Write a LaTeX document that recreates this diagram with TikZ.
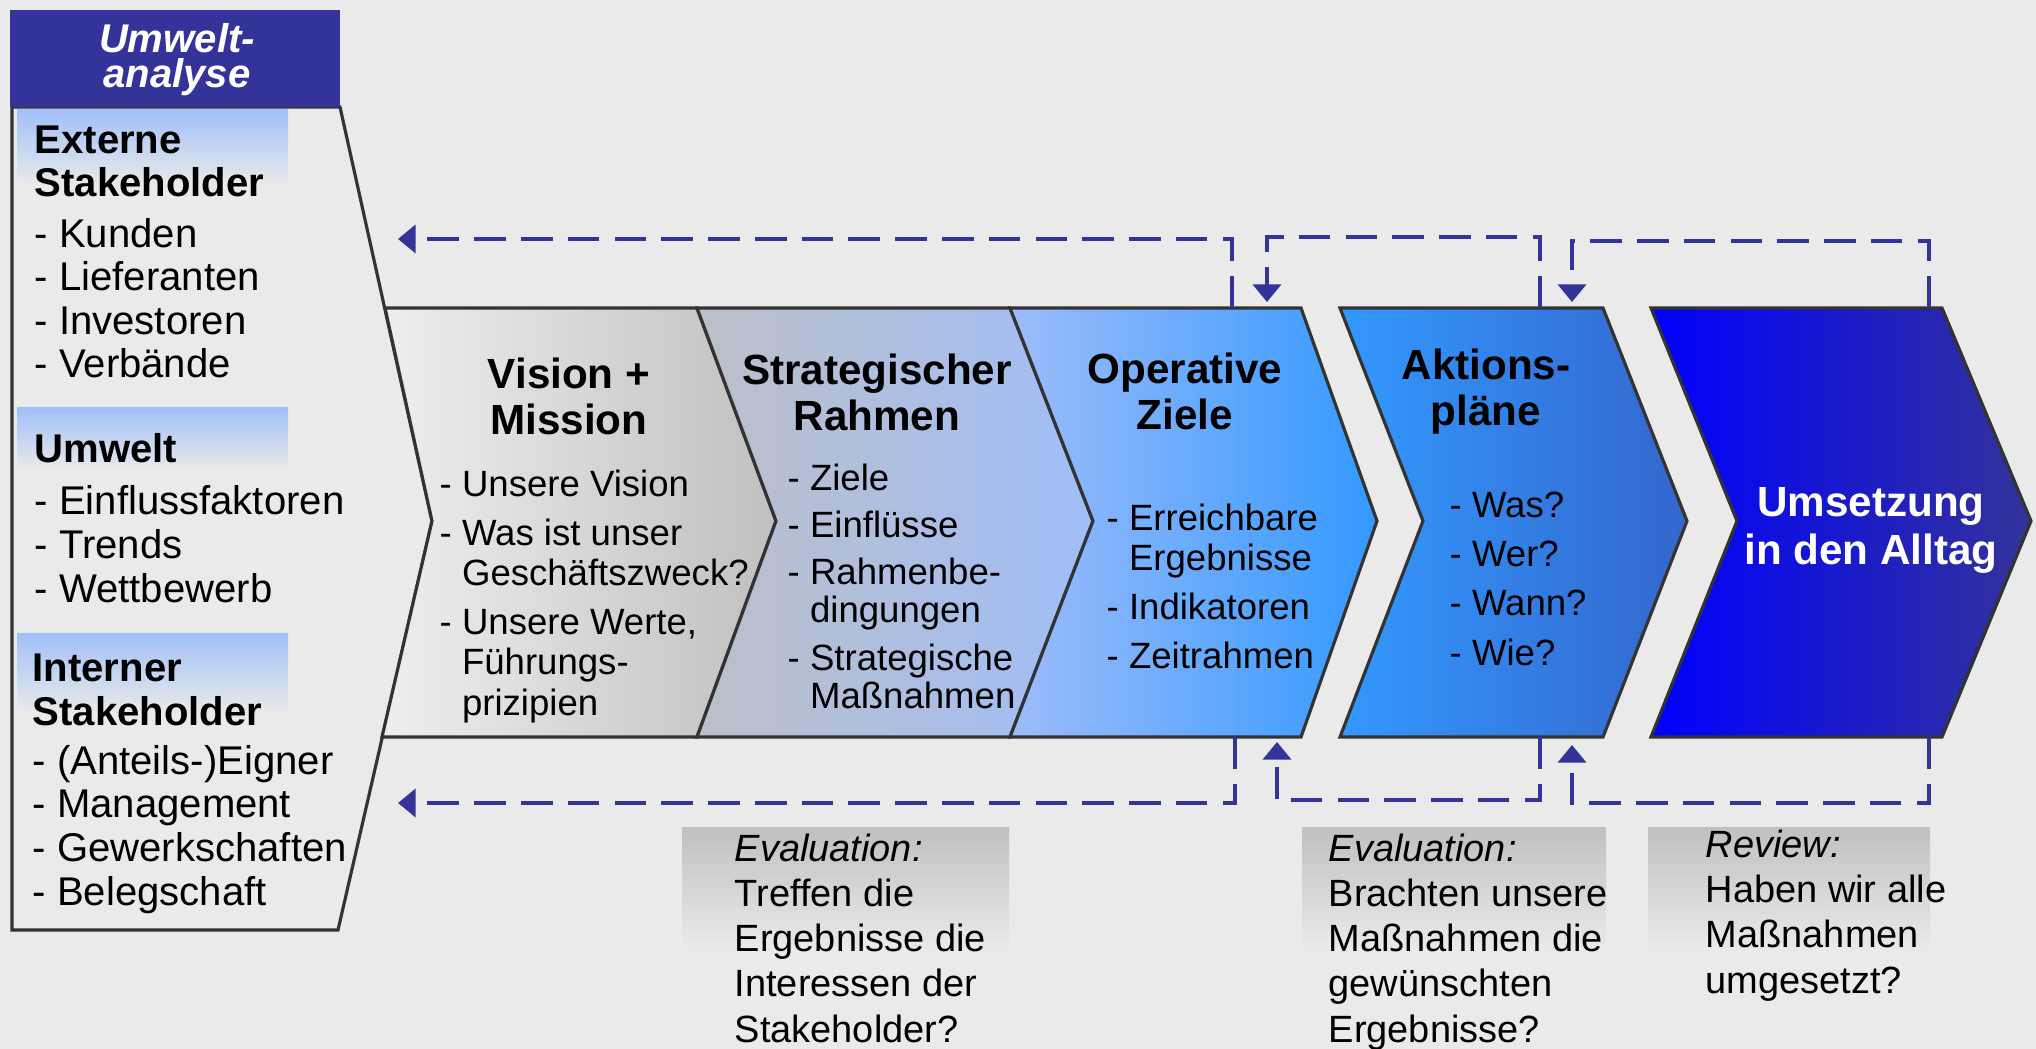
\documentclass[tikz,border=0pt]{standalone}
\usepackage{fontspec}
\setmainfont{Liberation Sans}
\usepackage{tikz}
\usetikzlibrary{arrows.meta}

\definecolor{bg}{RGB}{234,234,234}
\definecolor{navy}{RGB}{51,51,153}
\definecolor{edge}{RGB}{51,51,51}
\definecolor{strip}{RGB}{160,192,248}
\definecolor{boxgray}{RGB}{192,192,192}

\newcommand{\indnt}{\phantom{-~}}

\tikzset{
  chev/.style={draw=edge, line width=0.9pt, line join=miter},
  fb/.style={navy, line width=0.9pt, dash pattern=on 9pt off 4.3pt, -{Triangle[length=5pt,width=8pt]}},
  hd/.style={anchor=base west, align=left, inner sep=0pt, font=\fontsize{11.4}{12.4}\selectfont\bfseries},
  lst/.style={anchor=base west, align=left, inner sep=0pt, font=\fontsize{11.4}{12.4}\selectfont},
  ctit/.style={anchor=base, align=center, inner sep=0pt, font=\fontsize{12}{13.1}\selectfont\bfseries},
  citm/.style={anchor=base west, align=left, inner sep=0pt, font=\fontsize{10.4}{11.4}\selectfont},
  qst/.style={anchor=base west, align=left, inner sep=0pt, font=\fontsize{10.8}{12.8}\selectfont}
}

\begin{document}
\begin{tikzpicture}[x=0.01cm,y=-0.01cm]
\useasboundingbox (0,0) rectangle (2036,1049);
\fill[bg] (0,0) rectangle (2036,1049);

% environment panel
\draw[edge, line width=0.9pt, fill=bg] (12,107) -- (340,107) -- (432,521) -- (338,930) -- (12,930) -- cycle;
\shade[top color=strip, bottom color=bg] (17,110) rectangle (288,185);
\shade[top color=strip, bottom color=bg] (17,408) rectangle (288,470);
\shade[top color=strip, bottom color=bg] (17,633) rectangle (288,713);
\fill[navy] (10,10) rectangle (340,107);

\node[anchor=base, align=center, inner sep=0pt, text=white, font=\fontsize{11.4}{10.2}\selectfont\bfseries\itshape] (ttl) at (177,88) {Umwelt-\\analyse};
\node[hd] (ext) at (34,197) {Externe\\Stakeholder};
\node[lst] (extl) at (34,378) {- Kunden\\- Lieferanten\\- Investoren\\- Verbände};
\node[hd] (umw) at (34,463) {Umwelt};
\node[lst] (umwl) at (34,602) {- Einflussfaktoren\\- Trends\\- Wettbewerb};
\node[hd] (intn) at (32,725) {Interner\\Stakeholder};
\node[lst] (intl) at (32,905) {- (Anteils-)Eigner\\- Management\\- Gewerkschaften\\- Belegschaft};

% process chevrons
\draw[chev, left color={rgb,255:red,238;green,238;blue,238}, right color={rgb,255:red,192;green,192;blue,192}]
  (385,308) -- (697,308) -- (776,521) -- (697,737) -- (382,737) -- (432,521) -- cycle;
\draw[chev, left color={rgb,255:red,188;green,191;blue,200}, right color={rgb,255:red,160;green,190;blue,248}]
  (697,308) -- (1010,308) -- (1093,521) -- (1010,737) -- (697,737) -- (776,521) -- cycle;
\draw[chev, left color={rgb,255:red,157;green,188;blue,250}, right color={rgb,255:red,51;green,153;blue,255}]
  (1010,308) -- (1301,308) -- (1377,521) -- (1301,737) -- (1010,737) -- (1093,521) -- cycle;
\draw[chev, left color={rgb,255:red,51;green,153;blue,255}, right color={rgb,255:red,51;green,102;blue,204}]
  (1340,308) -- (1603,308) -- (1687,521) -- (1603,737) -- (1340,737) -- (1423,521) -- cycle;
\draw[chev, left color={rgb,255:red,0;green,0;blue,255}, right color=navy]
  (1651,308) -- (1942,308) -- (2031,521) -- (1942,737) -- (1651,737) -- (1737,521) -- cycle;

\node[ctit] (vis) at (569,435) {Vision +\\Mission};
\node[citm] (visl) at (439,715) {- Unsere Vision\\[2.6pt]- Was ist unser\\\indnt Geschäftszweck?\\[2.6pt]- Unsere Werte,\\\indnt Führungs-\\\indnt prizipien};
\node[ctit] (str) at (877,431) {Strategischer\\Rahmen};
\node[citm, font=\fontsize{10.4}{10.8}\selectfont] (strl) at (787,708) {- Ziele\\[2.6pt]- Einflüsse\\[2.6pt]- Rahmenbe-\\\indnt dingungen\\[2.6pt]- Strategische\\\indnt Maßnahmen};
\node[ctit] (opz) at (1185,430) {Operative\\Ziele};
\node[citm] (opzl) at (1106,669) {- Erreichbare\\\indnt Ergebnisse\\[2.6pt]- Indikatoren\\[2.6pt]- Zeitrahmen};
\node[ctit] (akt) at (1486,426) {Aktions-\\pläne};
\node[citm] (aktl) at (1449,665) {- Was?\\[2.6pt]- Wer?\\[2.6pt]- Wann?\\[2.6pt]- Wie?};
\node[ctit, text=white, font=\fontsize{12}{13.4}\selectfont\bfseries] (ums) at (1871,564) {Umsetzung\\in den Alltag};

% feedback loops
\coordinate (pl1) at (398,239);
\coordinate (pl2) at (398,803);
\coordinate (c3a) at (1232,308);
\coordinate (c3b) at (1267,302);
\coordinate (c3c) at (1235,737);
\coordinate (c3d) at (1277,742);
\coordinate (c4a) at (1540,308);
\coordinate (c4b) at (1572,302);
\coordinate (c4c) at (1540,737);
\coordinate (c4d) at (1572,745);
\coordinate (c5a) at (1929,308);
\coordinate (c5c) at (1929,737);

\draw[fb] (c3a) |- (pl1);
\draw[fb] (c4a) -- ++(0,-71) -| (c3b);
\draw[fb] (c5a) -- ++(0,-67) -| (c4b);
\draw[fb] (c3c) |- (pl2);
\draw[fb] (c4c) -- ++(0,63) -| (c3d);
\draw[fb] (c5c) -- ++(0,66) -| (c4d);

% questions below
\shade[top color=boxgray, bottom color=bg] (682,827) rectangle (1009,950);
\shade[top color=boxgray, bottom color=bg] (1302,827) rectangle (1606,950);
\shade[top color=boxgray, bottom color=bg] (1648,827) rectangle (1930,950);

\node[qst] (evq1) at (734,1042) {\textit{Evaluation:}\\Treffen die\\Ergebnisse die\\Interessen der\\Stakeholder?};
\node[qst] (evq2) at (1328,1042) {\textit{Evaluation:}\\Brachten unsere\\Maßnahmen die\\gewünschten\\Ergebnisse?};
\node[qst] (rvq) at (1705,993) {\textit{Review:}\\Haben wir alle\\Maßnahmen\\umgesetzt?};
\end{tikzpicture}
\end{document}
